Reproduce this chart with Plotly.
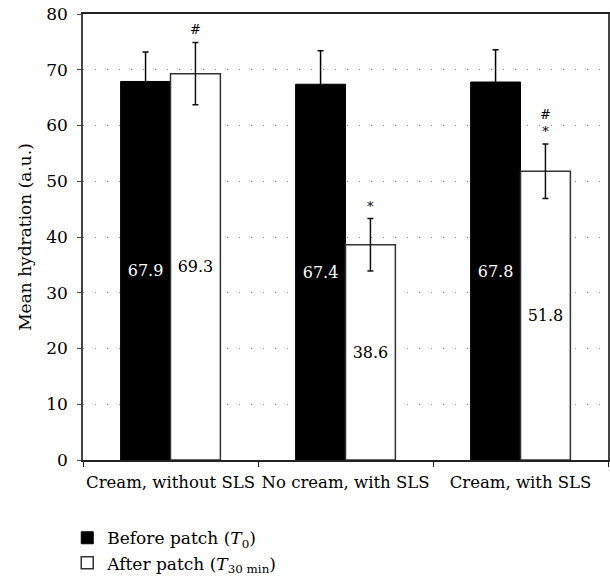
import plotly.graph_objects as go

categories = ["Cream, without SLS", "No cream, with SLS", "Cream, with SLS"]
before = [67.9, 67.4, 67.8]
before_err = [5.3, 6.0, 5.8]
after = [69.3, 38.6, 51.8]
after_err = [5.6, 4.7, 4.9]
after_marks = ["#", "*", "#<br>*"]

FONT = "DejaVu Serif"

fig = go.Figure()
fig.add_trace(go.Bar(
    x=categories, y=before, name="Before patch (<i>T</i><sub>0</sub>)",
    marker=dict(color="#000000", line=dict(color="#000000", width=1)),
    error_y=dict(type="data", array=before_err, color="#000000", thickness=1.5, width=3),
    text=[f"{v:.1f}" for v in before], textposition="inside", insidetextanchor="middle",
    textfont=dict(color="white", size=16, family=FONT), textangle=0,
))
fig.add_trace(go.Bar(
    x=categories, y=after, name="After patch (<i>T</i><sub>30 min</sub>)",
    marker=dict(color="white", line=dict(color="#333333", width=1.5)),
    error_y=dict(type="data", array=after_err, color="#111111", thickness=1.5, width=3),
    text=[f"{v:.1f}" for v in after], textposition="inside", insidetextanchor="middle",
    textfont=dict(color="black", size=16, family=FONT), textangle=0,
))

for i, (c, v, e, m) in enumerate(zip(categories, after, after_err, after_marks)):
    fig.add_annotation(x=i, y=v + e, text=m, showarrow=False, xshift=25,
                       yanchor="bottom", yshift=3,
                       font=dict(family=FONT, size=13, color="black"))

fig.update_layout(
    width=610, height=577,
    margin=dict(l=83, r=2, t=14, b=117, autoexpand=False),
    plot_bgcolor="white", paper_bgcolor="white",
    barmode="group", bargap=0.43, bargroupgap=0,
    font=dict(family=FONT, size=17, color="black"),
    showlegend=True,
    legend=dict(x=-0.03, y=-0.135, xanchor="left", yanchor="top",
                font=dict(family=FONT, size=17), tracegroupgap=0, itemwidth=30),
    xaxis=dict(showline=True, linecolor="#222222", linewidth=1.5, mirror=True,
               ticks="outside", tickcolor="#222222", ticklen=5, tickangle=0,
               automargin=False,
               tickson="boundaries", ticklabelstandoff=6,
               tickfont=dict(size=16.5, family=FONT)),
    yaxis=dict(range=[0, 80], dtick=10, showline=True, linecolor="#444444", linewidth=1.5,
               mirror=True, ticks="outside", tickcolor="#444444", ticklen=4,
               showgrid=True, gridcolor="#888888", griddash="1px,11px", gridwidth=1,
               zeroline=False, ticklabelstandoff=6, automargin=False,
               title=dict(text="Mean hydration (a.u.)", font=dict(size=17, family=FONT), standoff=10),
               tickfont=dict(size=17, family=FONT)),
)

fig.write_html("out.html", post_script="document.body.style.margin='0';",
               config={"displayModeBar": False})
